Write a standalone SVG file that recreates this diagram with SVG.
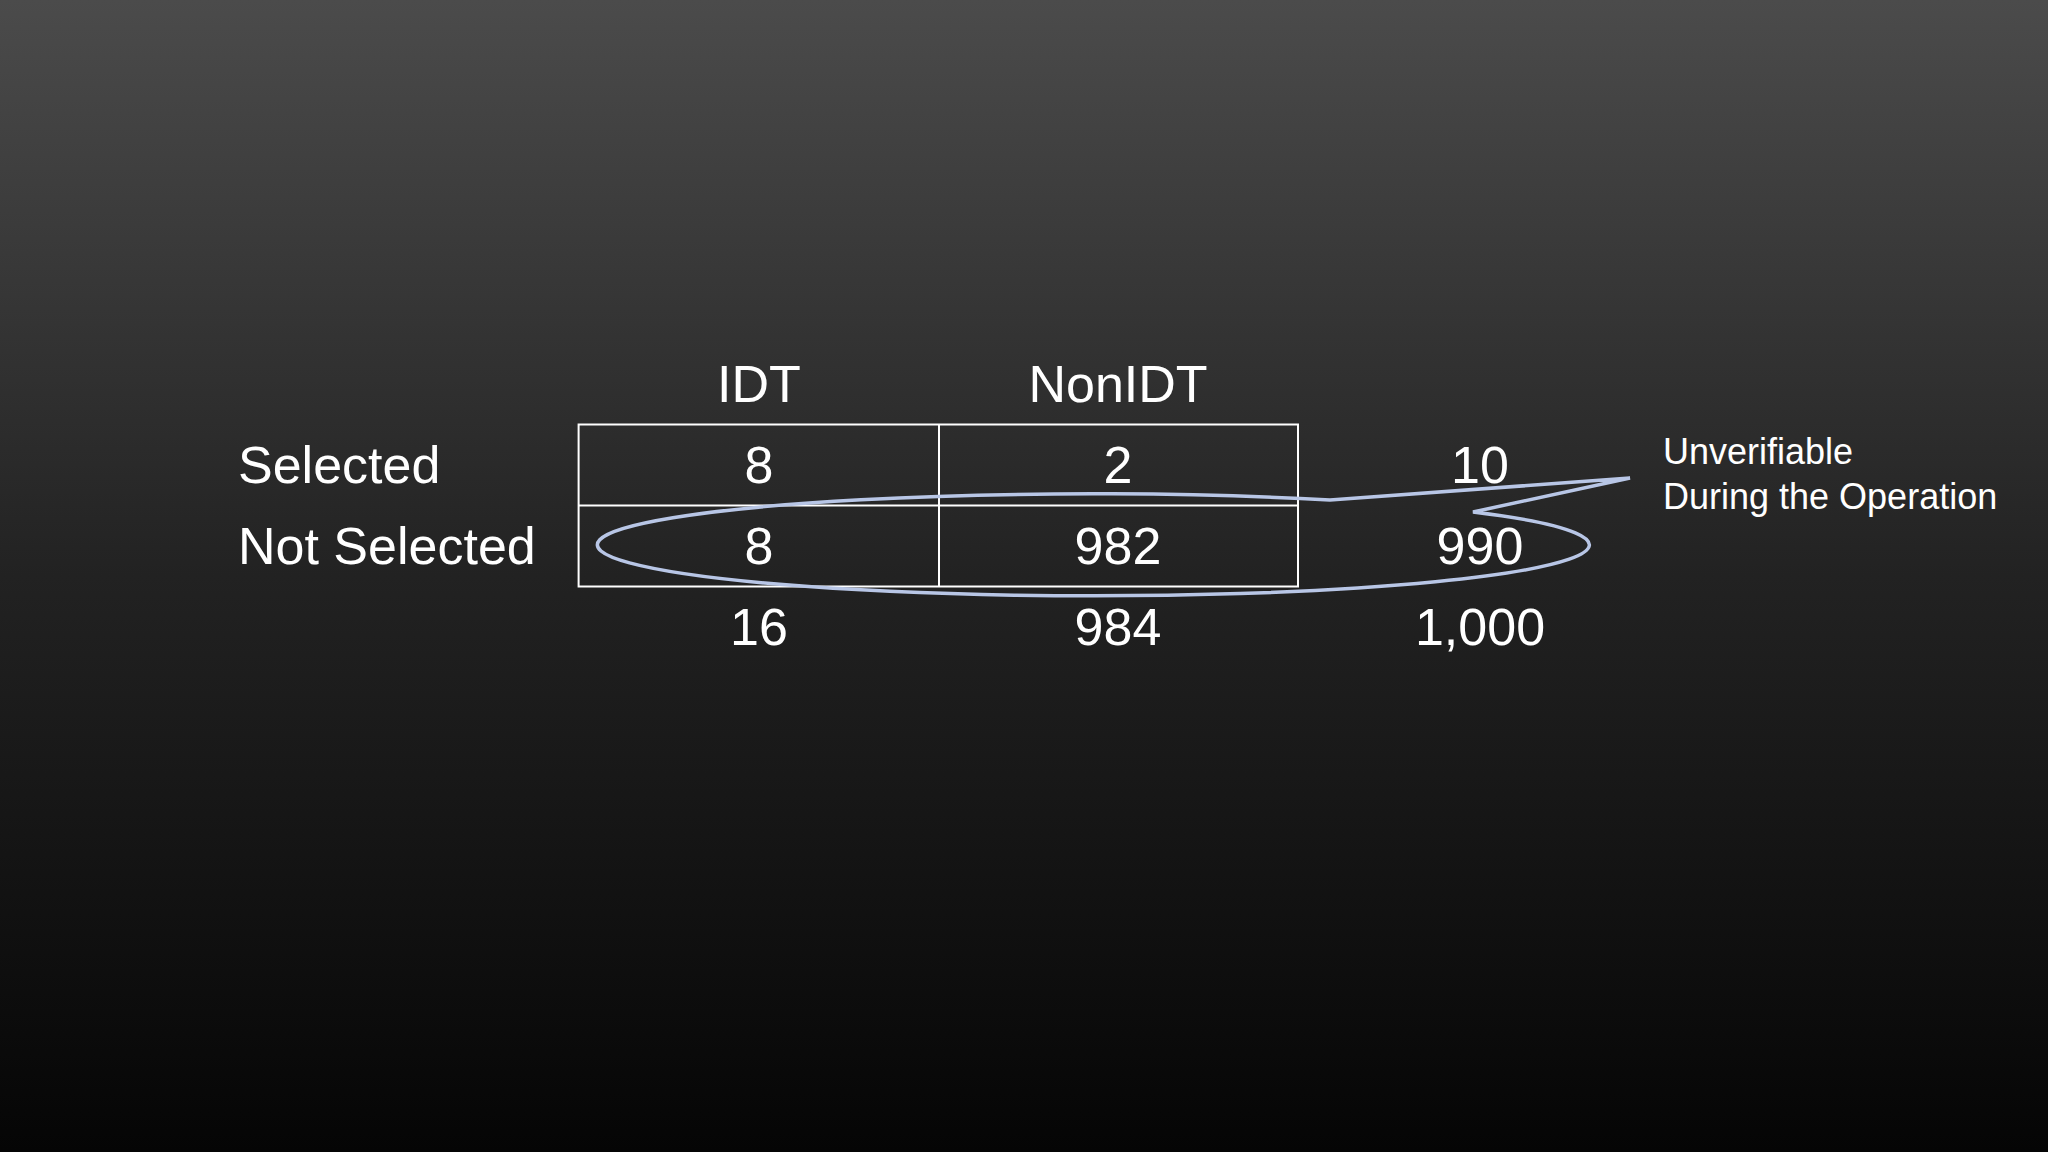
<svg xmlns="http://www.w3.org/2000/svg" width="2048" height="1152" viewBox="0 0 2048 1152">
<defs>
<linearGradient id="bg" x1="0" y1="0" x2="0" y2="1">
<stop offset="0" stop-color="#4b4b4b"/>
<stop offset="0.5" stop-color="#222"/>
<stop offset="1" stop-color="#050505"/>
</linearGradient>
<style>
text{font-family:"Liberation Sans",Arial,sans-serif;fill:#fff}
.b{font-size:52px}
.c{text-anchor:middle}
.s{font-size:36px}
.cell{fill:none;stroke:#fff;stroke-width:2}
</style>
</defs>
<rect width="2048" height="1152" fill="url(#bg)"/>
<g id="table">
<rect class="cell" x="578.6" y="424.5" width="719.4" height="162"/>
<line class="cell" x1="939" y1="424.5" x2="939" y2="586.5"/>
<line class="cell" x1="578.6" y1="505.5" x2="1298" y2="505.5"/>
</g>
<g id="headers">
<text class="b c" x="759" y="402">IDT</text>
<text class="b c" x="1118" y="402">NonIDT</text>
<text class="b" x="238" y="483">Selected</text>
<text class="b" x="238" y="564">Not Selected</text>
</g>
<g id="values">
<text class="b c" x="759" y="483">8</text>
<text class="b c" x="1118" y="483">2</text>
<text class="b c" x="1480" y="483">10</text>
<text class="b c" x="759" y="564">8</text>
<text class="b c" x="1118" y="564">982</text>
<text class="b c" x="1480" y="564">990</text>
<text class="b c" x="759" y="645">16</text>
<text class="b c" x="1118" y="645">984</text>
<text class="b c" x="1480" y="645">1,000</text>
</g>
<g id="connectors">
<path d="M1473,512 A496,51 0 1 1 1330,500 L1630,478 Z" fill="none" stroke="#b8c6e6" stroke-width="3.5" stroke-linejoin="miter"/>
</g>
<g id="callout">
<text class="s" x="1663" y="464">Unverifiable</text>
<text class="s" x="1663" y="509">During the Operation</text>
</g>
</svg>
